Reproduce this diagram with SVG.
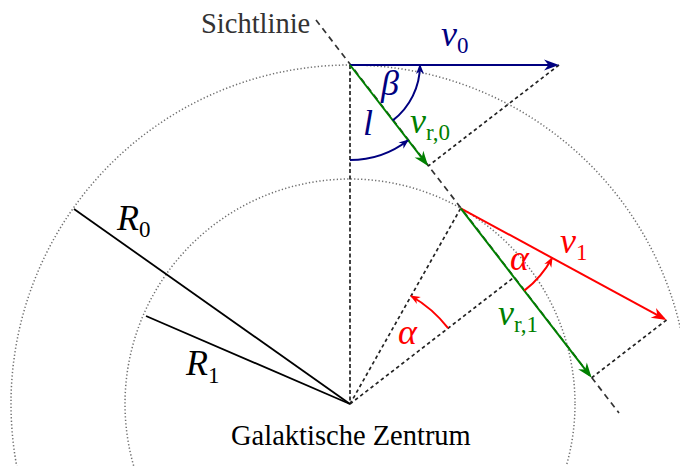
<svg xmlns="http://www.w3.org/2000/svg" width="680" height="466" viewBox="0 0 680 466">
<style>
.circ{fill:none;stroke:#707070;stroke-width:1.5;stroke-dasharray:1.3 2.2}
.dash{fill:none;stroke:#222;stroke-width:1.7;stroke-dasharray:3.5 3}
.vdash{fill:none;stroke:#222;stroke-width:1.7;stroke-dasharray:4 2.5}
.los{fill:none;stroke:#333;stroke-width:1.7;stroke-dasharray:6 4.5}
.rad{fill:none;stroke:#000;stroke-width:1.8}
.navy{stroke:#000080;fill:none;stroke-width:2}
.green{stroke:#008000;fill:none;stroke-width:2}
.red{stroke:#ff0000;fill:none;stroke-width:2}
.t{font-size:28.5px}
.m{font-size:36px;font-style:italic}
.s{font-size:23px;font-style:normal}
</style>
<defs>
<marker id="aN" markerUnits="userSpaceOnUse" markerWidth="20" markerHeight="14" viewBox="-16 -7 20 14" refX="-3" refY="0" orient="auto"><path d="M0,0 L-15,-5.5 L-10.5,0 L-15,5.5 Z" fill="#000080"/></marker>
<marker id="aG" markerUnits="userSpaceOnUse" markerWidth="20" markerHeight="14" viewBox="-16 -7 20 14" refX="-3" refY="0" orient="auto"><path d="M0,0 L-15,-5.5 L-10.5,0 L-15,5.5 Z" fill="#008000"/></marker>
<marker id="aR" markerUnits="userSpaceOnUse" markerWidth="20" markerHeight="14" viewBox="-16 -7 20 14" refX="-3" refY="0" orient="auto"><path d="M0,0 L-15,-5.5 L-10.5,0 L-15,5.5 Z" fill="#ff0000"/></marker>
<marker id="sN" markerUnits="userSpaceOnUse" markerWidth="14" markerHeight="10" viewBox="-11 -5 14 10" refX="-1" refY="0" orient="auto"><path d="M0,0 L-10,-4 L-7,0 L-10,4 Z" fill="#000080"/></marker>
<marker id="sR" markerUnits="userSpaceOnUse" markerWidth="14" markerHeight="10" viewBox="-11 -5 14 10" refX="-1" refY="0" orient="auto"><path d="M0,0 L-10,-4 L-7,0 L-10,4 Z" fill="#ff0000"/></marker>
</defs>
<rect width="680" height="466" fill="#fff"/>
<g id="circles">
<circle class="circ" cx="350" cy="404" r="339"/>
<circle class="circ" cx="350" cy="404" r="225"/>
</g>
<g id="connectors">
<line class="los" x1="316" y1="20" x2="619" y2="413"/>
<line class="vdash" x1="350" y1="65" x2="350" y2="404"/>
<line class="dash" x1="350" y1="404" x2="460.7" y2="208.3"/>
<line class="dash" x1="350" y1="404" x2="514" y2="277.3"/>
<line class="dash" x1="559" y1="65" x2="428.1" y2="166.1"/>
<line class="dash" x1="666.5" y1="320" x2="591.6" y2="377.8"/>
<line class="rad" x1="74" y1="209" x2="350" y2="404"/>
<line class="rad" x1="146" y1="316" x2="350" y2="404"/>
<line class="navy" x1="350" y1="65" x2="556" y2="65" marker-end="url(#aN)"/>
<line class="green" x1="350" y1="65" x2="426.3" y2="163.7" marker-end="url(#aG)"/>
<line class="red" x1="460.7" y1="208.3" x2="663.9" y2="318.6" marker-end="url(#aR)"/>
<line class="green" x1="460.7" y1="208.3" x2="589.8" y2="375.4" marker-end="url(#aG)"/>
<path class="navy" d="M350,160 A95,95 0 0 0 408.1,140.2" marker-end="url(#sN)"/>
<path class="navy" d="M392.8,120.4 A70,70 0 0 0 420,65" marker-end="url(#sN)"/>
<path class="red" d="M448.1,328.2 A124,124 0 0 0 411,296" marker-end="url(#sR)"/>
<path class="red" d="M524.3,290.6 A104,104 0 0 0 552.1,257.9" marker-end="url(#sR)"/>
</g>
<g id="labels" font-family="Liberation Serif, DejaVu Serif, serif">
<text class="t" x="201" y="33" fill="#333">Sichtlinie</text>
<text class="t" x="231" y="445" fill="#000">Galaktische Zentrum</text>
<text class="m" x="441" y="46" fill="#000080">v<tspan class="s" dy="7">0</tspan></text>
<text class="m" x="381" y="95" fill="#000080">β</text>
<text class="m" x="363" y="135" fill="#000080">l</text>
<text class="m" x="410" y="133" fill="#008000">v<tspan class="s" dy="7">r,0</tspan></text>
<text class="m" x="117" y="230" fill="#000">R<tspan class="s" dy="7">0</tspan></text>
<text class="m" x="186" y="375" fill="#000">R<tspan class="s" dy="8">1</tspan></text>
<text class="m" x="560" y="253" fill="#ff0000">v<tspan class="s" dy="7">1</tspan></text>
<text class="m" x="510" y="270" fill="#ff0000">α</text>
<text class="m" x="398" y="344" fill="#ff0000">α</text>
<text class="m" x="498" y="325" fill="#008000">v<tspan class="s" dy="7">r,1</tspan></text>
</g>
</svg>
